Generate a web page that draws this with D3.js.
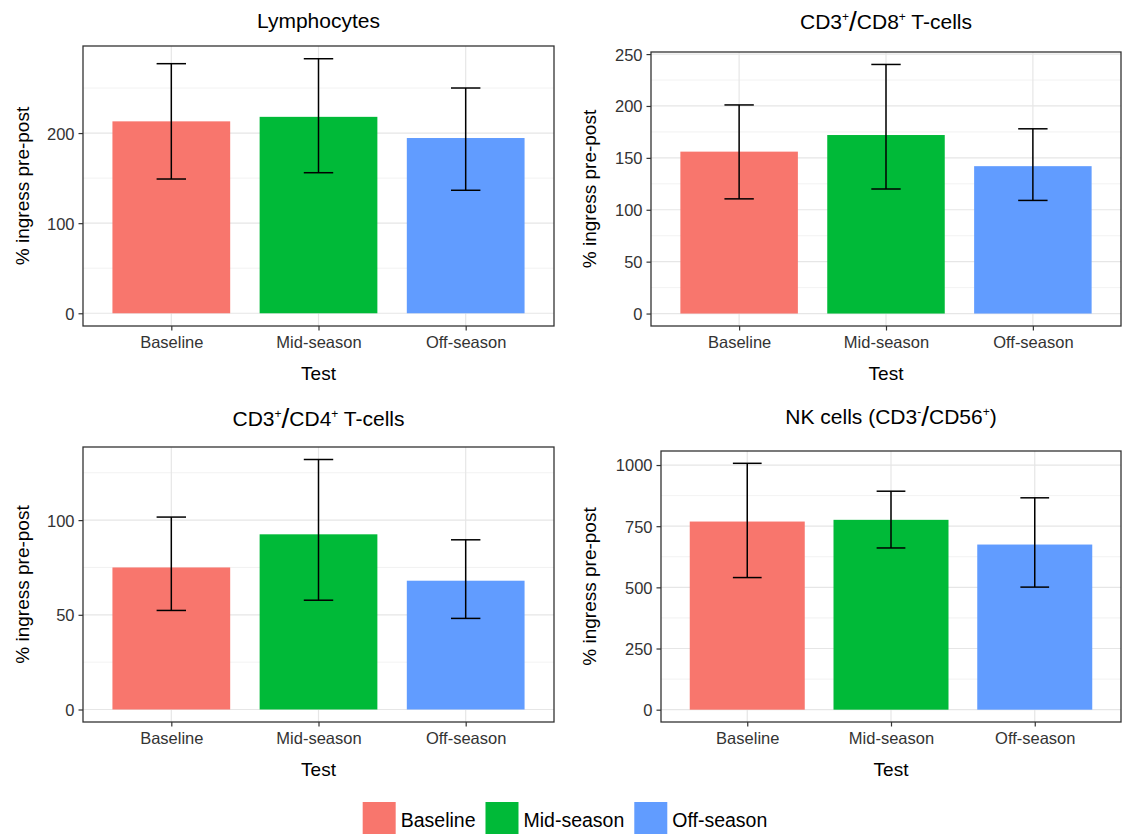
<!DOCTYPE html>
<html>
<head>
<meta charset="utf-8">
<script src="https://cdn.jsdelivr.net/npm/d3@7"></script>
<style>
  body { margin: 0; background: #fff; }
  svg text { font-family: "Liberation Sans", Arial, sans-serif; }
</style>
</head>
<body>
<script>
// categories and colours
const tests = ['Baseline', 'Mid-season', 'Off-season'];
const testColors = ['#F8766D', '#00BA38', '#619CFF'];

// Lymphocytes
const lymphMean = [213, 218, 194.5];
const lymphLow = [149, 156, 136.5];
const lymphHigh = [277, 282.5, 250];
const lymphTicks = [0, 100, 200];

// CD3+/CD8+ T-cells
const cd8Mean = [156, 172, 142];
const cd8Low = [110.5, 120, 109];
const cd8High = [201, 240, 178];
const cd8Ticks = [0, 50, 100, 150, 200, 250];

// CD3+/CD4+ T-cells
const cd4Mean = [75, 92.5, 68];
const cd4Low = [52.3, 57.7, 48.1];
const cd4High = [101.6, 132, 89.6];
const cd4Ticks = [0, 50, 100];

// NK cells (CD3-/CD56+)
const nkMean = [769, 776, 675];
const nkLow = [540, 661, 501];
const nkHigh = [1007, 893, 866];
const nkTicks = [0, 250, 500, 750, 1000];

// titles as text pieces (sup = superscript, slash = tall slash)
const lymphTitle = [{t: 'Lymphocytes'}];
const cd8Title = [{t: 'CD3'}, {t: '+', sup: true}, {t: '/', slash: true}, {t: 'CD8'}, {t: '+', sup: true}, {t: ' T-cells'}];
const cd4Title = [{t: 'CD3'}, {t: '+', sup: true}, {t: '/', slash: true}, {t: 'CD4'}, {t: '+', sup: true}, {t: ' T-cells'}];
const nkTitle = [{t: 'NK cells ('}, {t: 'CD3'}, {t: '-', sup: true}, {t: '/', slash: true}, {t: 'CD56'}, {t: '+', sup: true}, {t: ')'}];

const yLabel = '% ingress pre-post';
const xLabel = 'Test';

const width = 1122;
const height = 834;

const svg = d3.select('body')
    .append('svg')
    .attr('width', width)
    .attr('height', height);

svg.append('rect')
    .attr('width', width)
    .attr('height', height)
    .attr('fill', '#fff');

const panels = [
    {title: lymphTitle, mean: lymphMean, low: lymphLow, high: lymphHigh, ticks: lymphTicks, x0: 83, y0: 46, x1: 554, y1: 326, titleY: 28, yTitleX: 22},
    {title: cd8Title, mean: cd8Mean, low: cd8Low, high: cd8High, ticks: cd8Ticks, x0: 651, y0: 52, x1: 1121, y1: 326, titleY: 29, yTitleX: 589},
    {title: cd4Title, mean: cd4Mean, low: cd4Low, high: cd4High, ticks: cd4Ticks, x0: 83, y0: 447, x1: 554, y1: 722, titleY: 426, yTitleX: 22},
    {title: nkTitle, mean: nkMean, low: nkLow, high: nkHigh, ticks: nkTicks, x0: 661, y0: 451, x1: 1121, y1: 722, titleY: 424, yTitleX: 589}
];

panels.forEach(drawPanel);

function drawPanel(p) {
    const g = svg.append('g');

    const x = d3.scalePoint()
        .domain(tests)
        .range([p.x0, p.x1])
        .padding(0.6);
    const step = x.step();

    const top = d3.max(p.high);
    const y = d3.scaleLinear()
        .domain([-0.05 * top, top * 1.05])
        .range([p.y1, p.y0]);

    // grid
    const tStep = p.ticks[1] - p.ticks[0];
    const minor = d3.range(p.ticks[0] - tStep / 2, top * 1.05 + tStep, tStep)
        .filter(v => v > y.domain()[0] && v < y.domain()[1]);

    g.selectAll('.minor').data(minor).enter()
        .append('line')
        .attr('x1', p.x0).attr('x2', p.x1)
        .attr('y1', d => y(d)).attr('y2', d => y(d))
        .attr('stroke', '#EFEFEF').attr('stroke-width', 0.8);

    g.selectAll('.major').data(p.ticks).enter()
        .append('line')
        .attr('x1', p.x0).attr('x2', p.x1)
        .attr('y1', d => y(d)).attr('y2', d => y(d))
        .attr('stroke', '#E6E6E6').attr('stroke-width', 1.2);

    g.selectAll('.vmajor').data(tests).enter()
        .append('line')
        .attr('x1', d => x(d)).attr('x2', d => x(d))
        .attr('y1', p.y0).attr('y2', p.y1)
        .attr('stroke', '#E6E6E6').attr('stroke-width', 1.2);

    // bars
    g.selectAll('.bar').data(tests).enter()
        .append('rect')
        .attr('x', d => x(d) - step * 0.4)
        .attr('width', step * 0.8)
        .attr('y', (d, i) => y(p.mean[i]))
        .attr('height', (d, i) => y(0) - y(p.mean[i]))
        .attr('fill', (d, i) => testColors[i]);

    // error bars
    const eb = g.selectAll('.err').data(tests).enter().append('g')
        .attr('stroke', '#000').attr('stroke-width', 1.5).attr('fill', 'none');
    eb.append('line')
        .attr('x1', d => x(d)).attr('x2', d => x(d))
        .attr('y1', (d, i) => y(p.low[i])).attr('y2', (d, i) => y(p.high[i]));
    eb.append('line')
        .attr('x1', d => x(d) - step * 0.1).attr('x2', d => x(d) + step * 0.1)
        .attr('y1', (d, i) => y(p.high[i])).attr('y2', (d, i) => y(p.high[i]));
    eb.append('line')
        .attr('x1', d => x(d) - step * 0.1).attr('x2', d => x(d) + step * 0.1)
        .attr('y1', (d, i) => y(p.low[i])).attr('y2', (d, i) => y(p.low[i]));

    // axes
    const yAxis = g.append('g')
        .attr('transform', `translate(${p.x0},0)`)
        .call(d3.axisLeft(y).tickValues(p.ticks).tickFormat(d3.format('d')).tickSize(4.5).tickPadding(4));
    const xAxis = g.append('g')
        .attr('transform', `translate(0,${p.y1})`)
        .call(d3.axisBottom(x).tickSize(4.5).tickPadding(6));
    [yAxis, xAxis].forEach(a => {
        a.select('.domain').remove();
        a.selectAll('line').attr('stroke', '#333').attr('stroke-width', 1.2);
        a.selectAll('text')
            .attr('fill', '#333')
            .style('font-size', '16.5px');
    });
    yAxis.selectAll('text').attr('dy', '0.36em');

    // panel border
    g.append('rect')
        .attr('x', p.x0).attr('y', p.y0)
        .attr('width', p.x1 - p.x0).attr('height', p.y1 - p.y0)
        .attr('fill', 'none')
        .attr('stroke', '#333').attr('stroke-width', 1.3);

    // axis titles
    g.append('text')
        .attr('x', (p.x0 + p.x1) / 2)
        .attr('y', p.y1 + 54)
        .attr('text-anchor', 'middle')
        .style('font-size', '19px')
        .attr('fill', '#000')
        .text(xLabel);

    g.append('text')
        .attr('transform', `translate(${p.yTitleX},${(p.y0 + p.y1) / 2}) rotate(-90)`)
        .attr('dy', '0.36em')
        .attr('text-anchor', 'middle')
        .style('font-size', '19px')
        .attr('fill', '#000')
        .text(yLabel);

    // plot title
    const title = g.append('text')
        .attr('x', (p.x0 + p.x1) / 2)
        .attr('y', p.titleY)
        .attr('text-anchor', 'middle')
        .style('font-size', '21px')
        .attr('fill', '#000');
    let shift = 0;
    p.title.forEach(part => {
        const ts = title.append('tspan').text(part.t);
        if (part.sup) {
            ts.attr('dy', -8 - shift).style('font-size', '12px');
            shift = -8;
        } else if (part.slash) {
            ts.attr('dy', -shift + 2).style('font-size', '28px');
            shift = 2;
        } else {
            ts.attr('dy', -shift);
            shift = 0;
        }
    });
}

// legend
const legend = svg.append('g');
let lx = 0;
tests.forEach((t, i) => {
    legend.append('rect')
        .attr('x', lx).attr('y', 802)
        .attr('width', 33).attr('height', 33)
        .attr('fill', testColors[i]);
    const txt = legend.append('text')
        .attr('x', lx + 38).attr('y', 827)
        .style('font-size', '19.5px')
        .attr('fill', '#000')
        .text(t);
    lx += 38 + txt.node().getComputedTextLength() + 10;
});
legend.attr('transform', `translate(${565 - (lx - 10) / 2},0)`);
</script>
</body>
</html>
